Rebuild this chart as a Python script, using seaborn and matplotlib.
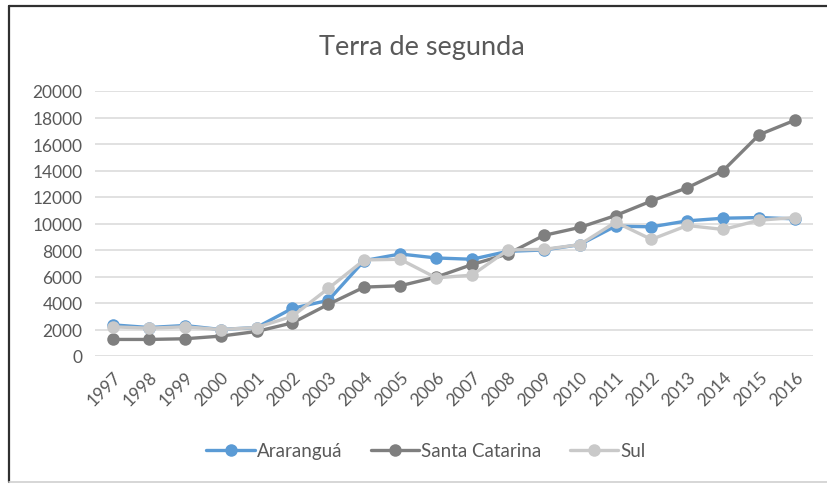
import matplotlib
matplotlib.use("Agg")
import matplotlib.pyplot as plt
import seaborn as sns
import pandas as pd
from matplotlib.lines import Line2D

years = ["1997", "1998", "1999", "2000", "2001", "2002", "2003", "2004", "2005", "2006",
         "2007", "2008", "2009", "2010", "2011", "2012", "2013", "2014", "2015", "2016"]
ararangua = [2350, 2150, 2300, 2000, 2150, 3600, 4200, 7200, 7700, 7400,
             7300, 7900, 8000, 8400, 9800, 9750, 10200, 10400, 10450, 10350]
santa_catarina = [1250, 1250, 1300, 1500, 1850, 2500, 3900, 5200, 5300, 5950,
                  6900, 7700, 9100, 9700, 10600, 11700, 12700, 14000, 16700, 17800]
sul = [2200, 2100, 2200, 2000, 2150, 3000, 5100, 7250, 7300, 5900,
       6100, 8000, 8050, 8400, 10100, 8800, 9850, 9550, 10250, 10450]

series_names = ["Araranguá", "Santa Catarina", "Sul"]
colors = {"Araranguá": "#5B9BD5", "Santa Catarina": "#7F7F7F", "Sul": "#C9C9C9"}

rows = []
for name, vals in zip(series_names, [ararangua, santa_catarina, sul]):
    for i, (yr, v) in enumerate(zip(years, vals)):
        rows.append({"pos": i, "ano": yr, "valor": v, "serie": name})
df = pd.DataFrame(rows)

sns.set_theme(style="white")
plt.rcParams["font.family"] = ["Lato", "DejaVu Sans"]
text_color = "#595959"

fig = plt.figure(figsize=(8.27, 4.85), dpi=100)
ax = fig.add_axes([95 / 827, (485 - 357) / 485, (813 - 95) / 827, (357 - 92) / 485])

sns.lineplot(data=df, x="pos", y="valor", hue="serie", hue_order=series_names,
             palette=colors, marker="o", markersize=9, markeredgewidth=0,
             linewidth=2.4, ax=ax, legend=False)

ax.set_xlim(-0.5, len(years) - 0.5)
ax.set_ylim(0, 20000)
ax.set_yticks(range(0, 20001, 2000))
ax.set_yticklabels([str(v) for v in range(0, 20001, 2000)], fontsize=12.5, color=text_color)
ax.set_xticks(range(len(years)))
ax.set_xticklabels(years, rotation=45, ha="right", rotation_mode="anchor",
                   fontsize=12.5, color=text_color)
ax.tick_params(axis="both", length=0, pad=9)
ax.set_xlabel("")
ax.set_ylabel("")
ax.grid(axis="y", color="#D9D9D9", linewidth=1.1)
ax.set_axisbelow(True)
for side in ["top", "right", "left", "bottom"]:
    ax.spines[side].set_visible(False)

fig.text(422 / 827, 1 - 47 / 485, "Terra de segunda", ha="center", va="center",
         fontsize=19.5, color=text_color)

handles = [Line2D([0], [0], color=colors[n], linewidth=2.4, marker="o",
                  markersize=9, markeredgewidth=0) for n in series_names]
fig.legend(handles, series_names, loc="center", bbox_to_anchor=(426 / 827, 1 - 452 / 485),
           ncol=3, frameon=False, fontsize=13.5, labelcolor=text_color,
           handlelength=2.6, handletextpad=0.1, columnspacing=1.5)

# chart frame
fig.add_artist(Line2D([9 / 827, 1], [1 - 7 / 485, 1 - 7 / 485], color="#303030", linewidth=1.6,
                      transform=fig.transFigure))
fig.add_artist(Line2D([9 / 827, 9 / 827], [1 - 7 / 485, 1 - 483 / 485], color="#303030",
                      linewidth=1.6, transform=fig.transFigure))
fig.add_artist(Line2D([9 / 827, 1], [1 - 483 / 485, 1 - 483 / 485], color="#D0D0D0",
                      linewidth=1.2, transform=fig.transFigure))

fig.savefig("out.png", dpi=100)
